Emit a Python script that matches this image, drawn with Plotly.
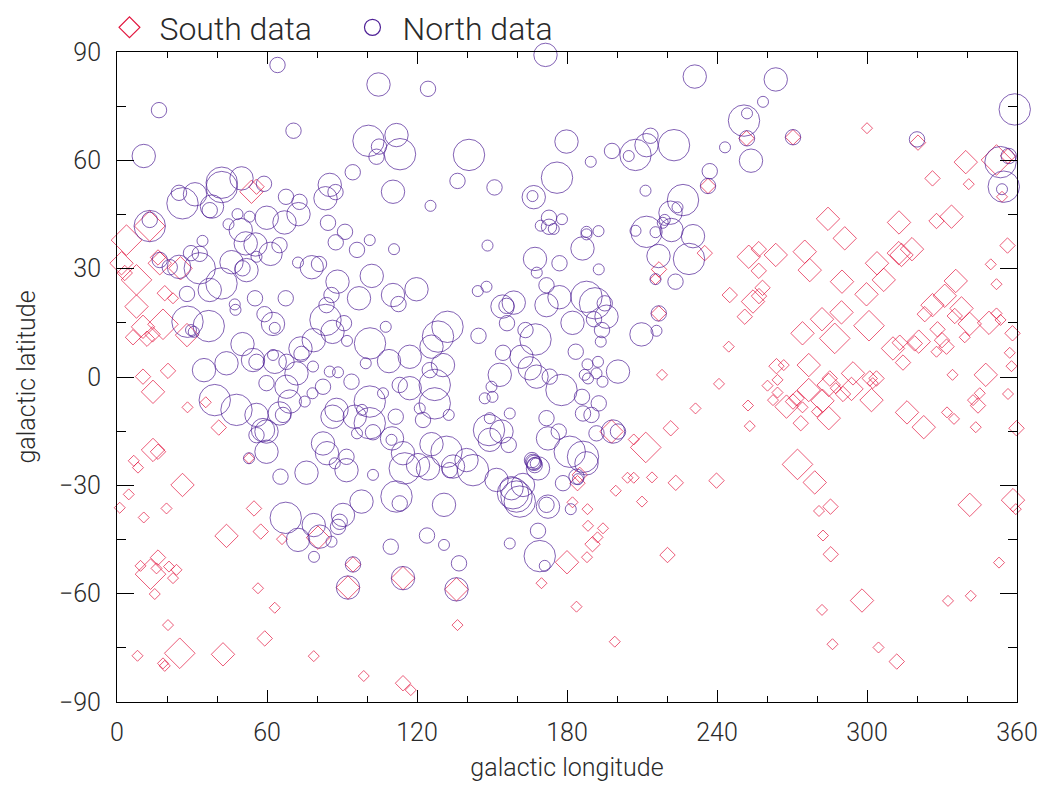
import plotly.graph_objects as go

# ---- North sample: galactic longitude / latitude (deg) and size class (1-4) ----
north_lon = [
    64.2, 104.6, 16.8, 70.6, 10.7, 100.6, 111.8, 113.2, 104.8, 103.8, 94.3, 41.9, 49.8, 58.8, 41.9,
    26.2, 24.8, 31.2, 38.0, 37.1, 67.6, 73.0, 72.6, 85.1, 87.4, 83.4, 110.4, 59.9, 67.0, 48.2,
    53.0, 44.6, 13.1, 13.1, 49.5, 84.4, 91.2, 87.5, 101.1, 110.8, 96.0, 34.2, 51.5, 55.4, 65.0,
    61.4, 45.8, 50.2, 51.8, 55.8, 29.6, 33.1, 33.1, 17.1, 21.1, 24.8, 41.8, 37.1, 28.0, 72.4,
    77.9, 80.8, 88.2, 101.9, 96.8, 110.4, 112.6, 119.8, 85.8, 55.2, 67.5, 47.1, 47.4, 28.2, 36.7,
    29.6, 30.7, 59.0, 62.4, 63.1, 83.4, 83.8, 90.8, 86.2, 92.0, 107.5, 101.2, 108.8, 117.1, 99.5,
    50.2, 73.4, 78.7, 73.8, 34.8, 43.8, 54.4, 55.8, 62.4, 63.1, 67.8, 71.8, 78.4, 85.1, 88.4,
    171.4, 124.4, 231.1, 140.8, 179.8, 189.5, 198.0, 207.4, 204.7, 211.8, 213.4, 222.8, 237.1, 236.4, 136.2,
    151.0, 176.0, 166.7, 166.2, 125.4, 211.4, 226.4, 221.4, 224.2, 219.1, 218.3, 221.8, 211.8, 207.4, 215.4,
    230.4, 172.8, 178.0, 169.5, 172.8, 174.7, 187.8, 187.8, 192.6, 186.2, 148.2, 167.2, 177.0, 167.9, 192.7,
    216.6, 228.8, 223.4, 215.4, 216.7, 209.8, 215.8, 144.3, 147.8, 154.2, 158.7, 155.8, 156.0, 144.6, 163.4,
    167.4, 171.8, 171.8, 177.0, 187.8, 191.2, 195.1, 195.8, 190.8, 182.2, 194.0, 193.5, 183.5, 188.2, 192.4,
    200.4, 132.2, 128.4, 125.8, 130.4, 125.1, 154.4, 161.8, 153.1, 165.1, 173.1, 167.8, 187.1, 191.8,
    263.5, 250.8, 252.0, 258.4, 252.0, 243.2, 253.6, 270.4, 320.0, 359.1, 353.4, 356.7, 354.7, 354.0,
    135.8, 130.8, 124.0, 130.8, 136.8, 157.1, 168.4, 169.1, 171.1, 181.5, 172.4, 171.8, 159.8, 158.4, 161.1,
    157.8, 162.4, 166.4, 167.1, 168.4, 166.0, 166.8, 167.5, 171.8, 172.4, 176.7, 181.1, 186.4, 187.8, 183.8,
    184.4, 178.4, 191.8, 198.4, 200.4, 186.4, 189.8, 177.8, 186.0, 192.7, 188.4, 194.2, 148.8, 153.8, 149.1,
    157.1, 156.7, 149.1, 124.4, 125.8, 131.8, 133.1, 134.4, 142.4, 139.8, 151.8, 121.1, 122.4, 127.1, 127.1,
    132.7, 147.1, 150.2, 149.8,
    94.4, 92.4, 114.4, 52.8, 65.4, 75.8, 59.8, 58.4, 55.8, 59.8, 55.8, 47.8, 39.1, 59.8, 65.1,
    66.4, 69.1, 67.8, 75.1, 78.2, 82.4, 93.8, 87.8, 86.2, 95.1, 101.1, 101.1, 98.0, 96.0, 102.4,
    106.4, 111.5, 110.0, 109.8, 117.1, 113.1, 82.4, 84.0, 91.8, 87.1, 91.8, 102.4, 115.1, 114.4, 120.4,
    111.8, 113.1, 97.8, 90.4, 88.4, 89.1, 85.8, 78.7, 81.1, 72.4, 67.5, 78.8, 109.5,
]
north_lat = [
    86.4, 81.0, 73.9, 68.2, 61.2, 65.4, 67.0, 61.7, 63.8, 61.0, 56.7, 53.8, 55.0, 53.5, 52.6,
    48.1, 51.0, 50.6, 47.2, 46.2, 49.9, 48.5, 45.1, 53.2, 51.2, 49.5, 51.3, 44.1, 42.8, 45.1,
    44.4, 42.3, 41.8, 43.5, 40.7, 42.7, 40.2, 37.3, 37.9, 35.4, 35.2, 37.7, 37.0, 36.7, 36.5,
    34.1, 31.8, 30.1, 29.6, 33.3, 34.3, 34.1, 30.1, 32.4, 30.4, 30.5, 25.9, 24.1, 23.0, 31.7,
    30.4, 31.3, 26.4, 28.0, 21.8, 22.7, 20.2, 24.3, 22.7, 21.8, 21.8, 20.1, 18.6, 15.3, 14.1,
    13.0, 12.5, 17.4, 14.7, 13.6, 15.8, 19.9, 14.9, 12.5, 10.0, 13.9, 9.3, 4.4, 5.6, 3.8,
    9.1, 7.9, 10.2, 6.4, 1.9, 3.8, 4.7, 4.2, 6.1, 4.2, 4.2, 1.0, 2.9, 1.5, 1.3,
    89.2, 79.8, 83.2, 61.5, 65.2, 59.6, 62.6, 61.5, 61.2, 64.2, 66.8, 64.2, 57.0, 52.9, 54.3,
    52.5, 55.2, 49.8, 50.1, 47.4, 51.6, 49.0, 45.5, 47.0, 43.5, 42.7, 40.7, 40.2, 40.5, 40.1,
    39.0, 44.1, 43.7, 41.9, 41.6, 41.0, 40.2, 39.5, 40.4, 35.6, 36.4, 32.7, 31.5, 28.9, 29.8,
    33.5, 32.7, 26.4, 27.1, 17.6, 11.8, 12.8, 23.8, 25.0, 19.5, 20.6, 19.7, 14.9, 11.4, 13.0,
    10.4, 25.4, 19.9, 22.1, 22.2, 20.4, 20.4, 16.7, 16.0, 15.0, 13.0, 9.8, 7.0, 3.5, 4.2,
    1.5, 13.9, 11.2, 8.4, 3.3, 1.9, 6.7, 5.6, 0.6, 2.4, 0.1, 0.1, 0.6, 1.0,
    82.4, 71.0, 73.0, 76.2, 66.1, 63.6, 59.9, 66.4, 65.8, 74.1, 59.5, 61.2, 52.7, 52.0,
    -58.8, -35.4, -43.9, -46.5, -51.6, -46.1, -42.6, -49.6, -52.3, -36.6, -35.9, -35.4, -33.1, -32.2, -34.5,
    -30.8, -29.9, -23.5, -24.4, -25.3, -23.0, -23.8, -24.0, -11.4, -17.0, -15.1, -20.7, -22.1, -23.9, -27.6,
    -28.3, -29.4, -15.6, -15.1, -15.1, -10.1, -10.5, -3.6, -5.5, -7.3, -0.4, -1.3, -14.7, -15.1, -11.4,
    -10.1, -18.8, -17.4, -25.3, -18.6, -20.7, -25.8, -24.8, -25.8, -23.0, -28.5, -8.7, -11.9, -2.2, -7.3,
    -10.5, -5.9, -5.5, -2.7,
    -51.9, -58.3, -55.7, -22.5, -27.6, -26.5, -20.7, -14.7, -16.1, -15.1, -10.5, -9.1, -6.4, -1.7, -10.1,
    -10.5, -6.8, -2.7, -6.8, -4.5, -2.7, -1.3, -9.1, -11.0, -11.0, -6.8, -12.8, -9.1, -15.6, -15.3,
    -4.5, -11.0, -17.0, -17.4, -3.1, -2.2, -18.4, -21.1, -22.1, -23.9, -25.8, -27.1, -25.3, -21.1, -24.4,
    -33.1, -35.0, -34.5, -38.2, -41.5, -40.1, -45.6, -41.0, -44.2, -45.1, -39.0, -49.8, -47.0,
]
north_cls = [
    2, 3, 2, 2, 3, 4, 3, 4, 2, 2, 2, 4, 3, 2, 4,
    4, 2, 3, 3, 2, 2, 2, 3, 3, 2, 3, 3, 3, 3, 1,
    1, 1, 4, 2, 3, 2, 2, 2, 1, 1, 2, 1, 3, 3, 2,
    3, 3, 2, 3, 1, 2, 2, 4, 2, 2, 3, 4, 3, 2, 1,
    3, 2, 3, 3, 3, 3, 2, 3, 2, 2, 2, 1, 1, 4, 4,
    1, 1, 2, 3, 1, 4, 2, 2, 3, 1, 1, 4, 3, 3, 1,
    3, 3, 3, 2, 3, 3, 3, 2, 1, 3, 2, 3, 1, 1, 1,
    3, 2, 3, 4, 3, 1, 2, 4, 1, 3, 2, 4, 2, 2, 2,
    2, 4, 3, 1, 1, 1, 4, 3, 1, 1, 1, 3, 4, 1, 1,
    3, 2, 1, 1, 2, 1, 1, 1, 1, 3, 1, 3, 2, 1, 1,
    3, 4, 2, 1, 2, 3, 1, 1, 1, 3, 3, 2, 2, 2, 2,
    4, 2, 3, 3, 4, 4, 2, 3, 2, 3, 2, 1, 2, 1, 1,
    3, 4, 4, 3, 3, 2, 2, 3, 3, 3, 2, 3, 1, 1,
    3, 4, 1, 1, 2, 1, 3, 2, 2, 4, 4, 2, 4, 1,
    3, 3, 2, 1, 2, 1, 2, 4, 1, 1, 3, 2, 4, 4, 4,
    3, 3, 2, 2, 3, 2, 2, 1, 2, 3, 2, 4, 4, 3, 2,
    1, 2, 2, 3, 2, 2, 2, 4, 2, 2, 1, 1, 4, 3, 1,
    1, 2, 3, 3, 3, 4, 2, 3, 4, 3, 3, 1, 2, 4, 4,
    1, 1, 1, 1,
    2, 3, 3, 1, 2, 3, 3, 3, 2, 3, 3, 4, 4, 2, 3,
    2, 3, 3, 1, 1, 2, 2, 3, 3, 3, 4, 4, 1, 1, 2,
    1, 2, 3, 1, 3, 2, 3, 3, 2, 1, 3, 1, 4, 3, 3,
    4, 2, 3, 3, 2, 2, 1, 3, 3, 3, 4, 1, 2,
]

# ---- South sample ----
south_lon = [
    53.8, 55.8, 13.1, 3.8, 1.8, 7.8, 3.1, 17.1, 16.4, 25.4, 19.1, 22.4, 7.8, 18.4, 10.4,
    6.4, 12.0, 14.2, 28.0, 20.4, 10.4,
    236.4, 235.1, 216.8, 215.4, 216.7, 218.0,
    251.8, 270.4, 300.0, 320.4, 339.5, 326.2, 340.7, 351.8, 356.4, 354.0, 284.4, 291.1, 312.8, 327.8,
    333.8, 356.2, 349.5, 351.8, 252.7, 256.7, 263.5, 256.7, 275.1, 277.1, 304.0, 313.8, 312.7, 318.0,
    306.7, 290.0, 299.8, 335.5, 331.1, 326.2, 323.1, 337.8, 335.1, 341.1, 348.8, 351.8, 353.4, 358.2,
    328.2, 339.1, 245.1, 256.8, 258.2, 254.4, 251.1, 244.7, 274.2, 282.0, 289.8, 287.1, 300.8, 310.4,
    314.4, 313.1, 319.1, 320.7, 330.0, 331.8, 327.8, 357.1, 357.8, 263.8, 266.7, 276.7, 294.4, 301.1,
    303.8, 334.2, 347.5, 285.1,
    240.8, 264.2, 260.2, 264.2, 262.4, 267.8, 270.4, 271.8, 274.2, 276.7, 282.2, 284.7, 284.7, 280.0,
    273.5, 252.4, 253.1, 287.5, 290.4, 293.8, 301.8, 302.3, 316.0, 322.7, 332.0, 334.8, 342.4, 345.1,
    344.4, 343.5, 356.4, 359.8, 272.2, 279.1, 239.8, 285.4, 280.8, 282.4, 285.5, 298.0, 282.0, 286.2,
    304.6, 311.9, 341.1, 358.4, 359.5, 352.8, 332.4, 341.5,
    231.4, 221.5, 211.5, 206.7, 197.8, 204.2, 206.7, 214.0, 223.5, 199.5, 210.0, 185.1, 184.2, 182.2,
    188.2, 188.4, 194.4, 192.2, 190.2, 188.0, 180.0, 169.8, 183.8, 220.2, 135.8, 136.2, 199.1,
    14.4, 28.2, 35.5, 40.7, 14.4, 16.4, 6.7, 8.4, 26.2, 4.7, 1.1, 10.7, 19.8, 52.8, 54.8,
    43.8, 57.5, 66.0, 80.4, 16.4, 9.4, 13.4, 15.8, 20.8, 23.8, 22.4, 15.1, 94.4, 92.4, 114.4,
    56.4, 63.1, 20.4, 59.1, 8.2, 25.1, 42.4, 78.7, 18.4, 19.1, 98.7, 114.4, 117.5,
]
south_lat = [
    51.3, 52.7, 41.8, 37.9, 31.5, 26.9, 28.8, 31.5, 33.1, 30.1, 23.2, 21.8, 19.5, 14.6, 13.9,
    11.0, 10.6, 11.8, 11.6, 1.7, 0.1,
    52.9, 34.3, 29.8, 27.1, 17.6, 0.6,
    66.1, 66.4, 68.9, 64.9, 59.5, 55.0, 53.4, 60.1, 61.2, 49.9, 43.8, 38.4, 42.8, 43.2,
    44.4, 36.4, 31.2, 25.7, 33.3, 35.4, 33.8, 29.4, 34.7, 29.6, 31.5, 33.8, 34.3, 35.4,
    26.9, 26.4, 22.9, 26.6, 22.5, 19.9, 17.4, 19.0, 16.9, 14.7, 15.0, 17.6, 15.8, 12.1,
    13.2, 11.0, 22.7, 22.4, 24.7, 20.9, 16.7, 8.4, 12.1, 16.0, 17.9, 10.7, 14.2, 7.9,
    4.0, 9.5, 9.3, 9.8, 10.2, 8.4, 7.0, 6.7, 3.0, 3.0, 3.3, 3.3, 1.0, -0.4,
    -0.4, 0.6, 0.6, -0.4,
    -1.9, -0.8, -2.4, -4.3, -6.4, -8.2, -6.8, -5.9, -8.4, -3.6, -6.6, -2.2, -11.4, -9.6,
    -12.8, -7.9, -13.6, -3.1, -4.7, -3.3, -6.4, -1.7, -9.8, -13.9, -9.8, -11.6, -6.4, -4.5,
    -7.9, -13.9, -4.7, -14.2, -24.2, -29.2, -28.7, -35.9, -37.1, -43.9, -49.1, -61.9, -64.5, -74.0,
    -74.9, -78.8, -35.4, -34.1, -36.6, -51.4, -62.0, -60.6,
    -8.7, -14.2, -19.5, -17.3, -15.1, -27.9, -27.9, -27.8, -29.3, -31.5, -34.5, -27.1, -29.4, -34.7,
    -36.6, -41.2, -41.9, -44.4, -46.3, -49.9, -51.3, -57.1, -63.6, -49.3, -58.8, -68.7, -73.3,
    -4.1, -8.4, -7.0, -14.0, -20.2, -20.7, -23.2, -25.1, -29.9, -32.5, -36.2, -38.9, -36.4, -22.5, -36.4,
    -44.0, -42.8, -44.9, -44.5, -50.0, -52.3, -54.6, -53.0, -52.5, -53.4, -55.7, -60.1, -51.9, -58.3, -55.7,
    -58.5, -63.9, -68.7, -72.4, -77.2, -76.5, -76.8, -77.3, -79.3, -80.0, -82.8, -84.8, -86.7,
]
south_cls = [
    3, 2, 4, 4, 3, 4, 2, 3, 2, 3, 2, 1, 3, 4, 3,
    2, 2, 2, 3, 2, 2,
    2, 2, 2, 1, 2, 1,
    2, 2, 1, 2, 3, 2, 1, 4, 2, 1, 3, 3, 3, 2,
    3, 2, 1, 1, 3, 2, 3, 2, 3, 3, 3, 3, 3, 3,
    3, 3, 3, 3, 3, 3, 2, 3, 2, 3, 3, 1, 1, 2,
    2, 1, 2, 2, 2, 3, 2, 1, 3, 3, 3, 4, 4, 3,
    2, 2, 2, 3, 2, 2, 1, 1, 1, 2, 1, 3, 3, 2,
    2, 1, 3, 2,
    1, 1, 1, 1, 1, 3, 2, 2, 1, 3, 3, 3, 3, 1,
    2, 1, 1, 1, 2, 3, 3, 1, 3, 3, 1, 1, 1, 1,
    2, 1, 1, 2, 4, 3, 2, 2, 1, 1, 2, 3, 1, 1,
    1, 2, 3, 3, 1, 1, 1, 1,
    1, 2, 4, 1, 3, 1, 1, 1, 2, 1, 1, 2, 2, 1,
    1, 1, 1, 1, 2, 1, 3, 1, 1, 2, 3, 1, 1,
    3, 1, 1, 2, 3, 2, 1, 1, 3, 1, 1, 1, 1, 1, 2,
    3, 2, 1, 3, 2, 1, 4, 1, 1, 1, 1, 1, 2, 3, 3,
    1, 1, 1, 2, 1, 4, 3, 1, 1, 1, 1, 2, 1,
]

# symbol radius (px) for each size class
CIRCLE_RADIUS = {1: 5.5, 2: 7.7, 3: 11.7, 4: 15.7}
DIAMOND_HALF = {1: 5.5, 2: 7.7, 3: 11.7, 4: 15.3}

NORTH_COLOR = "rgb(78,32,150)"
SOUTH_COLOR = "rgb(226,22,62)"
FONT = "Roboto, DejaVu Sans, sans-serif"
TEXT_COLOR = "#2a2a2a"

north_sizes = [2 * CIRCLE_RADIUS[c] for c in north_cls]
# plotly's diamond reaches 0.65*size from its centre
south_sizes = [DIAMOND_HALF[c] / 0.65 for c in south_cls]

fig = go.Figure()

fig.add_trace(go.Scatter(
    x=south_lon, y=south_lat, mode="markers", name="South data",
    legendgroup="south", showlegend=False, cliponaxis=False,
    marker=dict(symbol="diamond-open", size=south_sizes, color=SOUTH_COLOR,
                line=dict(width=1, color=SOUTH_COLOR)),
))
fig.add_trace(go.Scatter(
    x=north_lon, y=north_lat, mode="markers", name="North data",
    legendgroup="north", showlegend=False, cliponaxis=False,
    marker=dict(symbol="circle-open", size=north_sizes, color=NORTH_COLOR,
                line=dict(width=1, color=NORTH_COLOR)),
))

# legend entries with a fixed symbol size
fig.add_trace(go.Scatter(
    x=[None], y=[None], mode="markers", name="South data", legendgroup="south",
    marker=dict(symbol="diamond-open", size=16, color=SOUTH_COLOR, line=dict(width=1.2)),
))
fig.add_trace(go.Scatter(
    x=[None], y=[None], mode="markers", name="North data", legendgroup="north",
    marker=dict(symbol="circle-open", size=16, color=NORTH_COLOR, line=dict(width=1.2)),
))

tick_font = dict(family=FONT, size=25, color=TEXT_COLOR, weight=300)
title_font = dict(family=FONT, size=25, color=TEXT_COLOR, weight=300)

axis_common = dict(
    showgrid=False, zeroline=False, showline=True, linecolor="black", linewidth=1,
    mirror="allticks", ticks="inside", tickcolor="black", tickwidth=1,
    tickfont=tick_font, automargin=False,
)

fig.update_xaxes(
    range=[0, 360], tick0=0, dtick=60, ticklen=12,
    minor=dict(dtick=20, ticklen=6, ticks="inside", tickcolor="black", showgrid=False),
    title=dict(text="galactic longitude", font=title_font, standoff=12),
    ticklabelstandoff=8,
    **axis_common,
)
fig.update_yaxes(
    range=[-90, 90], tick0=-90, dtick=30, ticklen=17,
    minor=dict(dtick=15, ticklen=9, ticks="inside", tickcolor="black", showgrid=False),
    title=dict(text="galactic latitude", font=title_font, standoff=16),
    ticklabelstandoff=10,
    **axis_common,
)

fig.update_layout(
    width=1047, height=785,
    margin=dict(l=117, r=30, t=52, b=83, autoexpand=False),
    paper_bgcolor="white", plot_bgcolor="white",
    font=dict(family=FONT, size=25, color=TEXT_COLOR),
    legend=dict(
        orientation="h", xref="container", yref="container",
        x=0.095, y=1.0, xanchor="left", yanchor="top",
        font=dict(family=FONT, size=32, color=TEXT_COLOR, weight=300),
        bgcolor="rgba(0,0,0,0)", itemwidth=50, entrywidth=178, tracegroupgap=0,
    ),
)

fig.write_html("out.html")
